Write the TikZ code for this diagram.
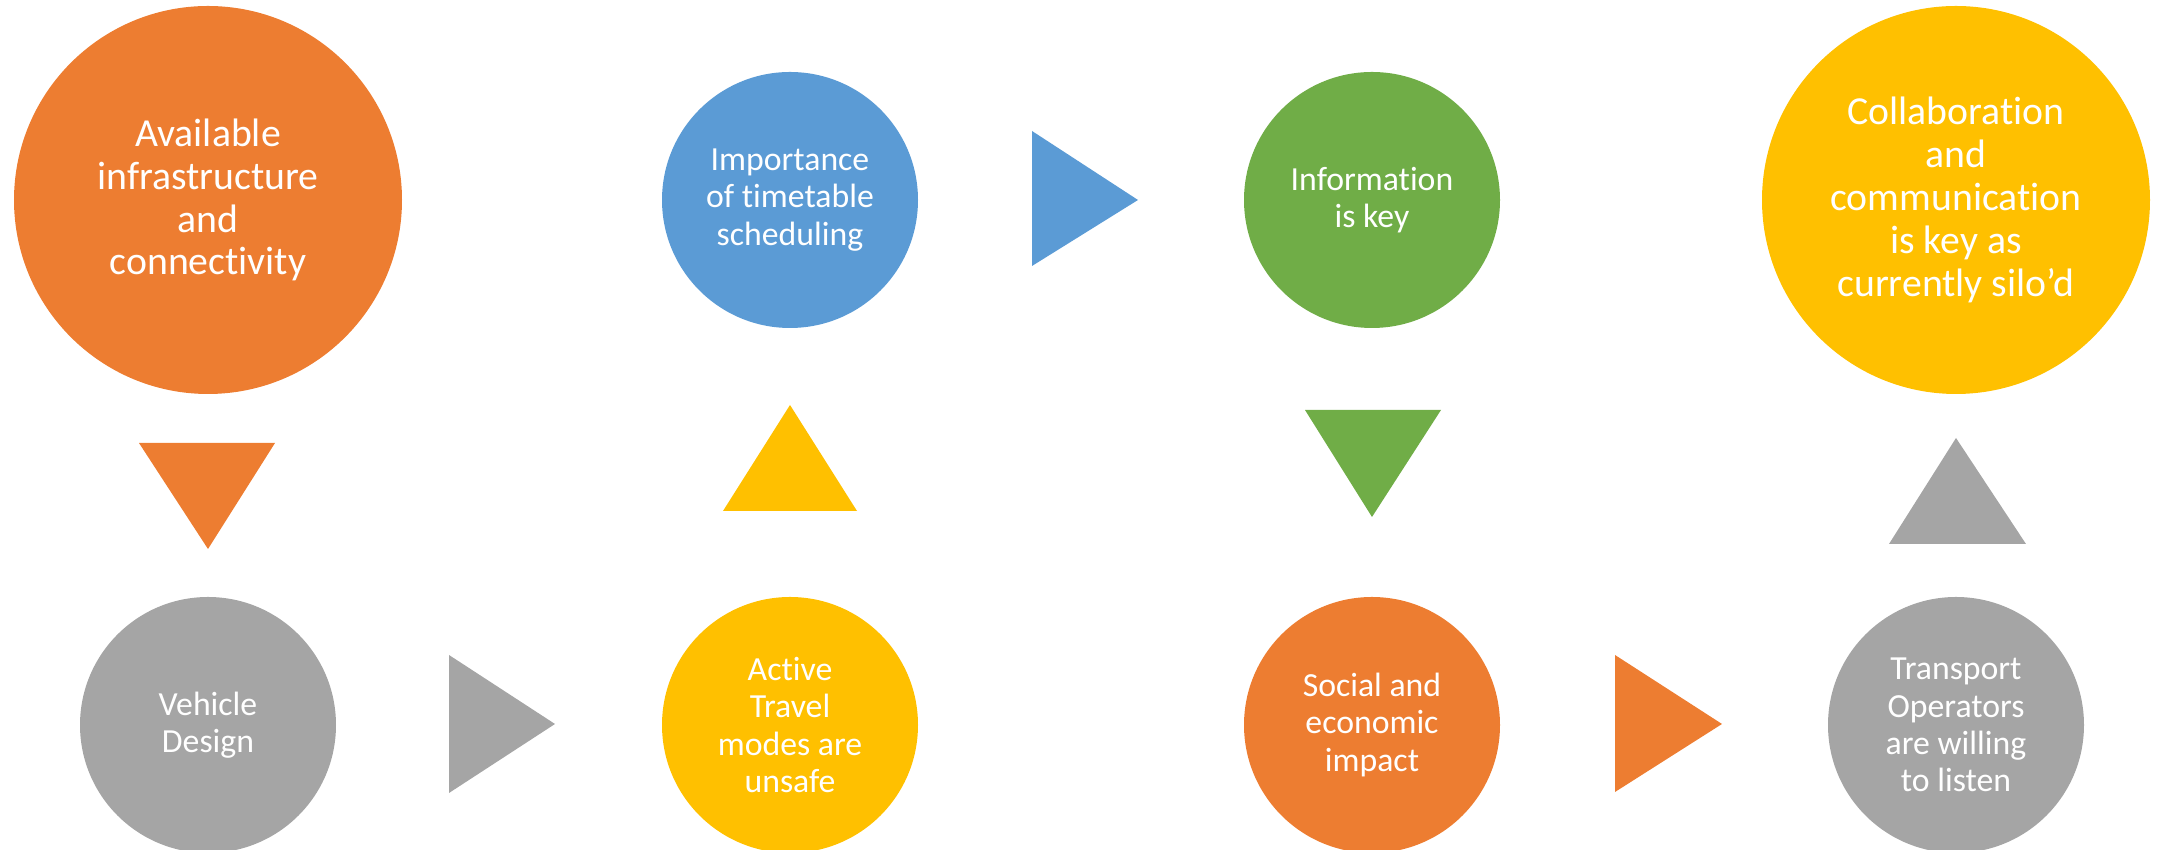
\documentclass[tikz,border=0pt]{standalone}
\usepackage{fontspec}
\setmainfont{Carlito}[Ligatures=NoCommon]
\definecolor{offorange}{RGB}{237,125,49}
\definecolor{offblue}{RGB}{91,155,213}
\definecolor{offgreen}{RGB}{112,173,71}
\definecolor{offgold}{RGB}{255,192,0}
\definecolor{offgray}{RGB}{165,165,165}

\begin{document}
\begin{tikzpicture}[x=1cm, y=-1cm,
    bubble/.style={circle, inner sep=0pt, text=white, align=center},
    bigbubble/.style={bubble, minimum size=3.88cm, font=\fontsize{11.3}{12.2}\selectfont},
    smallbubble/.style={bubble, minimum size=2.56cm, font=\fontsize{9.6}{10.6}\selectfont}]

    \useasboundingbox (0,0) rectangle (21.58,8.5);

    % top row
    \node[bigbubble, fill=offorange] (avail) at (2.08,2.00) {Available\\infrastructure\\and\\connectivity};
    \node[smallbubble, fill=offblue] (timetable) at (7.90,2.00) {Importance\\of timetable\\scheduling};
    \node[smallbubble, fill=offgreen] (info) at (13.72,2.00) {Information\\is key};
    \node[bigbubble, fill=offgold] (collab) at (19.56,2.00) {Collaboration\\and\\communication\\is key as\\currently silo’d};

    % bottom row
    \node[smallbubble, fill=offgray] (vehicle) at (2.08,7.25) {Vehicle\\Design};
    \node[smallbubble, fill=offgold] (active) at (7.90,7.25) {Active\\Travel\\modes are\\unsafe};
    \node[smallbubble, fill=offorange] (social) at (13.72,7.25) {Social and\\economic\\impact};
    \node[smallbubble, fill=offgray] (transport) at (19.56,7.25) {Transport\\Operators\\are willing\\to listen};

    % triangles
    \fill[offorange] (1.39,4.43) -- (2.75,4.43) -- (2.08,5.49) -- cycle;
    \fill[offgray] (4.49,6.55) -- (4.49,7.93) -- (5.55,7.24) -- cycle;
    \fill[offgold] (7.23,5.11) -- (8.57,5.11) -- (7.90,4.05) -- cycle;
    \fill[offblue] (10.32,1.31) -- (10.32,2.66) -- (11.38,2.00) -- cycle;
    \fill[offgreen] (13.05,4.10) -- (14.41,4.10) -- (13.72,5.17) -- cycle;
    \fill[offorange] (16.15,6.55) -- (16.15,7.92) -- (17.22,7.24) -- cycle;
    \fill[offgray] (18.89,5.44) -- (20.26,5.44) -- (19.56,4.38) -- cycle;

\end{tikzpicture}
\end{document}
